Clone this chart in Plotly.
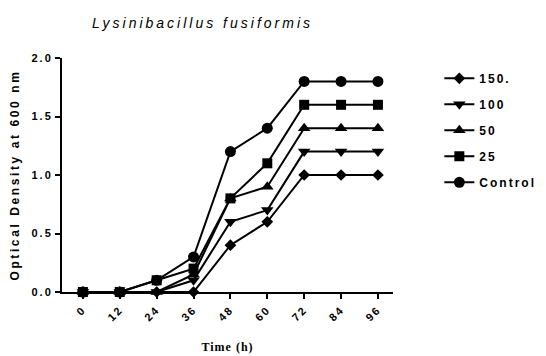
import plotly.graph_objects as go

time_h = [0, 12, 24, 36, 48, 60, 72, 84, 96]
series_names = ["150.", "100", "50", "25", "Control"]
od_150 = [0, 0, 0, 0, 0.4, 0.6, 1.0, 1.0, 1.0]
od_100 = [0, 0, 0, 0.1, 0.6, 0.7, 1.2, 1.2, 1.2]
od_50 = [0, 0, 0, 0.15, 0.8, 0.9, 1.4, 1.4, 1.4]
od_25 = [0, 0, 0.1, 0.2, 0.8, 1.1, 1.6, 1.6, 1.6]
od_control = [0, 0, 0.1, 0.3, 1.2, 1.4, 1.8, 1.8, 1.8]
y_ticks = [0.0, 0.5, 1.0, 1.5, 2.0]

series = [od_150, od_100, od_50, od_25, od_control]
symbols = ["diamond", "triangle-down", "triangle-up", "square", "circle"]
sizes = [9, 11, 11, 10, 11]

SP = "letter-spacing:2px"

fig = go.Figure()
for i, (name, vals, sym, sz) in enumerate(zip(series_names, series, symbols, sizes)):
    fig.add_trace(go.Scatter(
        x=time_h, y=vals, mode="lines+markers",
        name=f'<span style="letter-spacing:2px">{name}</span>',
        legendgroup=f"g{i}",
        line=dict(color="black", width=2),
        marker=dict(symbol=sym, size=sz, color="black"),
        cliponaxis=False,
    ))

# page body has an 8px default margin, so the figure is 8px smaller and shifted
fig.update_layout(
    width=538, height=348,
    margin=dict(l=54, r=153, t=50, b=64, autoexpand=False),
    paper_bgcolor="white", plot_bgcolor="white",
    font=dict(family="Liberation Sans, Arial", color="black", size=11),
    showlegend=True,
    legend=dict(
        x=1.14, y=0.975, xanchor="left", yanchor="top",
        font=dict(size=12, family="Liberation Sans, Arial", weight="bold"),
        itemwidth=30, tracegroupgap=7, bgcolor="rgba(0,0,0,0)",
    ),
    xaxis=dict(
        range=[-6.8, 100.9], tickvals=time_h,
        ticktext=[f'<span style="{SP}">{t}</span>' for t in time_h],
        tickangle=-45, showline=True, linecolor="black", linewidth=2,
        ticks="outside", ticklen=5, tickwidth=2, tickcolor="black",
        showgrid=False, zeroline=False,
        tickfont=dict(size=11, weight="bold"),
        title=dict(text='<span style="letter-spacing:1px">Time (h)</span>',
                   font=dict(family="Liberation Serif, Times New Roman", size=12, weight="bold"),
                   standoff=20),
    ),
    yaxis=dict(
        range=[0, 2], tickvals=y_ticks,
        ticktext=[f'<span style="{SP}">{v:.1f}</span>' for v in y_ticks],
        showline=True, linecolor="black", linewidth=2,
        ticks="outside", ticklen=5, tickwidth=2, tickcolor="black",
        showgrid=False, zeroline=False,
        tickfont=dict(size=11, weight="bold"),
        title=dict(text='<span style="letter-spacing:2.6px">Optical Density at 600 nm</span>',
                   font=dict(size=12, weight="bold"), standoff=10),
    ),
    annotations=[dict(
        text='<span style="letter-spacing:3px">Lysinibacillus fusiformis</span>',
        xref="paper", yref="paper", x=0.085, y=1.15, xanchor="left", yanchor="middle",
        showarrow=False, font=dict(size=14, style="italic"),
    )],
)

fig.write_html("out.html")
